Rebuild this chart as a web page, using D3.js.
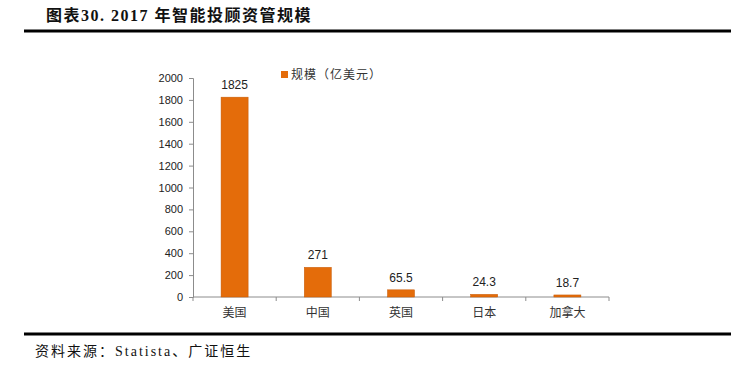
<!DOCTYPE html>
<html>
<head>
<meta charset="utf-8">
<script src="https://cdn.jsdelivr.net/npm/d3@7"></script>
<style>
	body { margin: 0; background: #fff; }
	svg text { font-family: "Noto Sans CJK SC", "Liberation Sans", sans-serif; }
</style>
</head>
<body>
<svg id="chart" width="755" height="367"></svg>
<script>
// data
const categories = ['美国', '中国', '英国', '日本', '加拿大'];
const values = [1825, 271, 65.5, 24.3, 18.7];
const valueLabels = ['1825', '271', '65.5', '24.3', '18.7'];
const yTicks = [0, 200, 400, 600, 800, 1000, 1200, 1400, 1600, 1800, 2000];
const seriesName = '规模（亿美元）';

let svg = d3.select('#chart');
let barColor = '#e46c0a';
let axisColor = '#8c8c8c';

// title and rules
svg.append('text')
	.attr('x', 46).attr('y', 21)
	.style('font-family', '"Liberation Serif", "Noto Sans CJK SC", serif')
	.style('font-size', '16px').style('font-weight', 'bold')
	.style('letter-spacing', '1.5px')
	.attr('fill', '#111')
	.text('图表30. 2017 年智能投顾资管规模');

svg.append('line')
	.attr('x1', 24).attr('x2', 731).attr('y1', 31).attr('y2', 31)
	.attr('stroke', '#000').attr('stroke-width', 3);

svg.append('line')
	.attr('x1', 24).attr('x2', 731).attr('y1', 334).attr('y2', 334)
	.attr('stroke', '#000').attr('stroke-width', 3);

svg.append('text')
	.attr('x', 35).attr('y', 356)
	.style('font-family', '"Liberation Serif", "Noto Sans CJK SC", serif')
	.style('font-size', '14px')
	.style('letter-spacing', '2px')
	.attr('fill', '#111')
	.text('资料来源：Statista、广证恒生');

// chart area
let plotLeft = 193, plotRight = 609, plotTop = 78, plotBottom = 297;

let x = d3.scaleBand().domain(categories).range([plotLeft, plotRight]).paddingInner(0.675).paddingOuter(0.3375);
let y = d3.scaleLinear().domain([0, 2000]).range([plotBottom, plotTop]);

let yAxis = svg.append('g')
	.attr('transform', 'translate(' + plotLeft + ',0)')
	.call(d3.axisLeft(y).tickValues(yTicks).tickSize(4).tickPadding(6).tickFormat(d3.format('d')));
yAxis.select('.domain').attr('stroke', axisColor);
yAxis.selectAll('.tick line').attr('stroke', axisColor);
yAxis.selectAll('.tick text').attr('fill', '#222').style('font-size', '11px')
	.style('font-family', '"Liberation Sans", sans-serif');

// x axis with ticks at band edges
let xAxis = svg.append('g').attr('transform', 'translate(0,' + plotBottom + ')');
xAxis.append('line').attr('x1', plotLeft).attr('x2', plotRight).attr('stroke', axisColor);
let edges = d3.range(categories.length + 1).map((i) => plotLeft + i * (plotRight - plotLeft) / categories.length);
xAxis.selectAll('.edge')
	.data(edges)
	.enter().append('line')
	.attr('class', 'edge')
	.attr('x1', (d) => d).attr('x2', (d) => d)
	.attr('y1', 0).attr('y2', 4)
	.attr('stroke', axisColor);
xAxis.selectAll('.cat')
	.data(categories)
	.enter().append('text')
	.attr('class', 'cat')
	.attr('x', (d) => x(d) + x.bandwidth() / 2)
	.attr('y', 20)
	.attr('text-anchor', 'middle')
	.attr('fill', '#333')
	.style('font-size', '12px')
	.text((d) => d);

// bars
svg.selectAll('.bar')
	.data(values)
	.enter().append('rect')
	.attr('class', 'bar')
	.attr('x', (d, i) => x(categories[i]))
	.attr('y', (d) => y(d))
	.attr('width', x.bandwidth())
	.attr('height', (d) => plotBottom - y(d))
	.attr('fill', barColor)
	.attr('stroke', '#c65a06').attr('stroke-width', 0.5);

svg.selectAll('.val')
	.data(values)
	.enter().append('text')
	.attr('class', 'val')
	.attr('x', (d, i) => x(categories[i]) + x.bandwidth() / 2)
	.attr('y', (d) => y(d) - 8)
	.attr('text-anchor', 'middle')
	.attr('fill', '#222')
	.style('font-size', '12px')
	.style('font-family', '"Liberation Sans", sans-serif')
	.text((d, i) => valueLabels[i]);

// legend
svg.append('rect')
	.attr('x', 281).attr('y', 71).attr('width', 7).attr('height', 7)
	.attr('fill', barColor);
svg.append('text')
	.attr('x', 291).attr('y', 79)
	.attr('fill', '#333')
	.style('font-size', '12px')
	.style('letter-spacing', '1px')
	.text(seriesName);
</script>
</body>
</html>
